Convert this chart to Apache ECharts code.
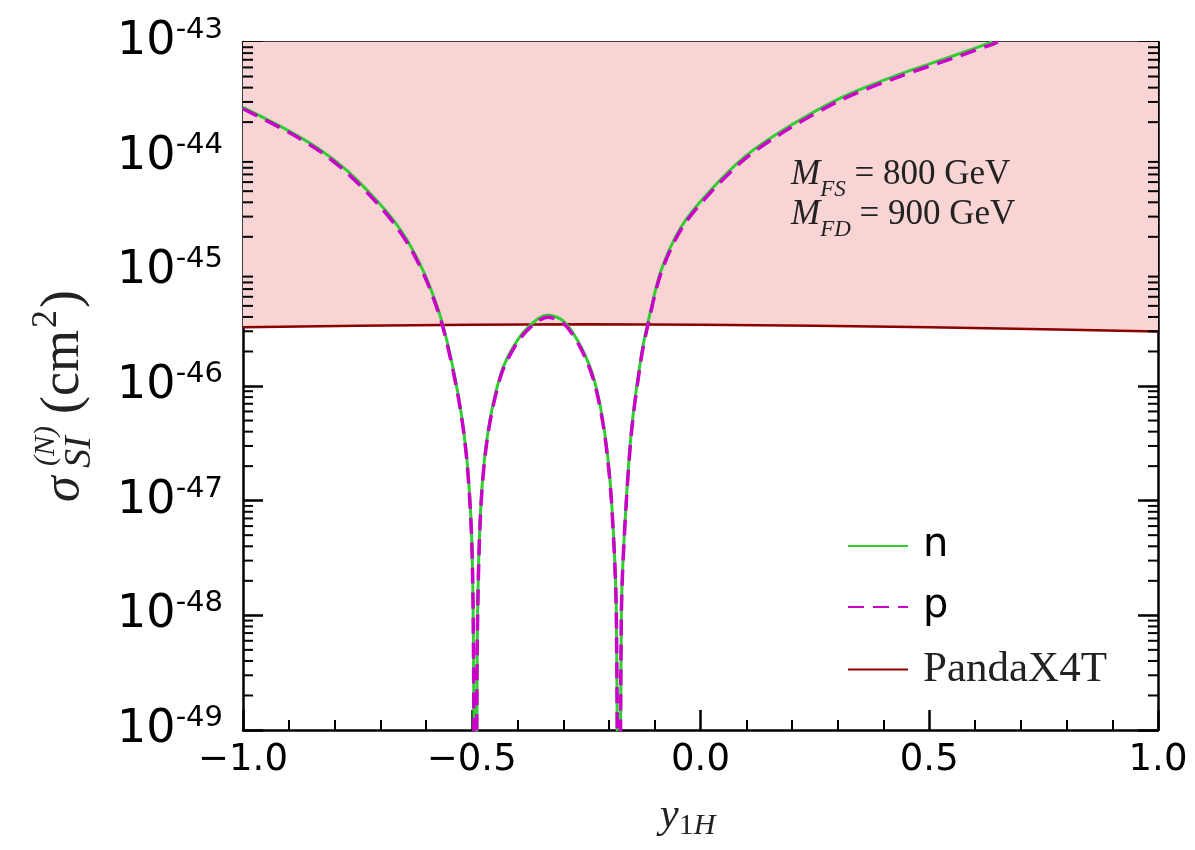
<!DOCTYPE html>
<html>
<head>
<meta charset="utf-8">
<script src="https://cdn.jsdelivr.net/npm/echarts@6/dist/echarts.min.js"></script>
<style>
html,body{margin:0;padding:0;background:#fff;}
#chart{width:1195px;height:850px;}
</style>
</head>
<body>
<div id="chart"></div>
<script>
// y_1H values and cross sections (cm^2)
var xN = [-1.00,-0.90,-0.83,-0.773,-0.708,-0.67,-0.635,-0.598,-0.563,-0.529,-0.511,-0.500,-0.496,-0.492,-0.488,-0.481,-0.466,-0.436,-0.40,-0.364,-0.334,-0.298,-0.261,-0.232,-0.21,-0.195,-0.184,-0.179,-0.173,-0.166,-0.151,-0.13,-0.115,-0.086,-0.042,0.016,0.097,0.192,0.31,0.436,0.553,0.638];
var nVals = [2.69e-44,1.68e-44,1.14e-44,7.59e-45,4.17e-45,2.75e-45,1.70e-45,8.51e-46,3.39e-46,8.13e-47,2.40e-47,4.57e-48,3.98e-49,1e-52,5.25e-49,7.76e-48,3.63e-47,1.29e-46,2.51e-46,3.63e-46,4.17e-46,3.63e-46,2.19e-46,1.12e-46,4.07e-47,1.07e-47,1.05e-48,1e-52,1.05e-48,5.50e-48,4.07e-47,1.78e-46,3.55e-46,1.02e-45,2.45e-45,4.79e-45,1.0e-44,1.82e-44,3.31e-44,5.25e-44,7.59e-44,1.0e-43];
var xP = [-1.00,-0.90,-0.83,-0.773,-0.708,-0.67,-0.635,-0.598,-0.563,-0.529,-0.511,-0.500,-0.496,-0.492,-0.488,-0.481,-0.466,-0.436,-0.40,-0.364,-0.334,-0.298,-0.261,-0.232,-0.21,-0.195,-0.184,-0.179,-0.173,-0.166,-0.151,-0.13,-0.115,-0.086,-0.042,0.016,0.097,0.192,0.31,0.436,0.553,0.638,0.65];
var pVals = [2.62e-44,1.63e-44,1.10e-44,7.25e-45,3.98e-45,2.62e-45,1.62e-45,8.15e-46,3.25e-46,7.80e-47,2.30e-47,4.40e-48,3.85e-49,1e-52,5.05e-49,7.45e-48,3.48e-47,1.24e-46,2.40e-46,3.47e-46,3.98e-46,3.47e-46,2.10e-46,1.07e-46,3.90e-47,1.03e-47,1.01e-48,1e-52,1.01e-48,5.30e-48,3.90e-47,1.70e-46,3.40e-46,9.75e-46,2.34e-45,4.58e-45,9.55e-45,1.74e-44,3.16e-44,5.02e-44,7.25e-44,9.55e-44,1.0e-43];
var xPanda = [-1,-0.75,-0.5,-0.25,0,0.25,0.5,0.75,1];
var pandaVals = [3.25e-46,3.35e-46,3.42e-46,3.45e-46,3.42e-46,3.35e-46,3.25e-46,3.12e-46,2.98e-46];
// decades shown on the y axis (log10)
var yMin = -49, yMax = -43;

var sans = 'DejaVu Sans', serif = 'Liberation Serif';

// the y axis is drawn in log10 space
function pairs(xs, ys){
	var out = [];
	for (var i = 0; i < xs.length; i++) out.push([xs[i], Math.log10(ys[i])]);
	return out;
}

// minor ticks 2..9 x 10^e
var minorY = [];
for (var e = yMin; e < yMax; e++) {
	for (var k = 2; k <= 9; k++) minorY.push([-1, e + Math.log10(k)]);
}

function xAx(pos, showLabel){
	return {
		type: 'value', min: -1, max: 1, interval: 0.5, position: pos,
		axisLine: {show: true, onZero: false, lineStyle: {color: '#000', width: 2.5}},
		axisTick: {inside: true, length: 20, lineStyle: {color: '#000', width: 2.5}},
		minorTick: {show: true, splitNumber: 5, length: 10, lineStyle: {color: '#000', width: 2}},
		splitLine: {show: false},
		axisLabel: {
			show: showLabel, margin: 12, color: '#000', fontFamily: sans, fontSize: 37,
			formatter: function(v){ return (v < 0 ? '\u2212' : '') + Math.abs(v).toFixed(1); }
		}
	};
}

function yAx(pos, showLabel){
	return {
		type: 'value', min: yMin, max: yMax, interval: 1, position: pos,
		axisLine: {show: true, onZero: false, lineStyle: {color: '#000', width: 2.5}},
		axisTick: {inside: true, length: 20, lineStyle: {color: '#000', width: 2.5}},
		splitLine: {show: false},
		axisLabel: {
			show: showLabel, margin: 20, color: '#000',
			formatter: function(v){ return '{b|10}{s|' + v + '}'; },
			rich: {
				b: {fontFamily: sans, fontSize: 46, lineHeight: 52, color: '#000'},
				s: {fontFamily: sans, fontSize: 29, lineHeight: 30, verticalAlign: 'top', color: '#000'}
			}
		}
	};
}

var subRich = {
	i: {fontFamily: serif, fontStyle: 'italic', fontSize: 35, lineHeight: 36, verticalAlign: 'top', fill: '#222'},
	s: {fontFamily: serif, fontStyle: 'italic', fontSize: 23, lineHeight: 24, verticalAlign: 'bottom', fill: '#222'},
	r: {fontFamily: serif, fontSize: 35, lineHeight: 36, verticalAlign: 'top', fill: '#222'},
	g: {lineHeight: 44, fontSize: 10}
};

var chart = echarts.init(document.getElementById('chart'));
var option = {
	animation: false,
	backgroundColor: '#fff',
	grid: {left: 243, right: 37, top: 42, bottom: 120, containLabel: false, outerBoundsMode: 'none'},
	xAxis: [xAx('bottom', true), xAx('top', false)],
	yAxis: [yAx('left', true), yAx('right', false)],
	legend: {
		data: ['n', 'p', 'PandaX4T'],
		orient: 'vertical', left: 847, top: 526, padding: 0,
		itemWidth: 60, itemHeight: 20, itemGap: 21,
		itemStyle: {opacity: 0, borderWidth: 0},
		textStyle: {color: '#000', fontSize: 40, lineHeight: 40},
		formatter: function(name){ return name === 'PandaX4T' ? '{s|' + name + '}' : '{d|' + name + '}'; },
		selectedMode: false
	},
	graphic: [
		{type: 'text', left: 791, top: 157, z: 100, style: {text: '{i|M}{s|FS}{r| = 800 GeV}{g| }', rich: subRich}},
		{type: 'text', left: 791, top: 197, z: 100, style: {text: '{i|M}{s|FD}{r| = 900 GeV}{g| }', rich: subRich}},
		// x axis title
		{type: 'text', left: 660, top: 795, z: 100, style: {
			text: '{i|y}{n|1}{h|H}{g| }',
			rich: {
				i: {fontFamily: serif, fontStyle: 'italic', fontSize: 42, lineHeight: 40, verticalAlign: 'top', fill: '#222'},
				n: {fontFamily: serif, fontSize: 30, lineHeight: 32, verticalAlign: 'bottom', fill: '#222'},
				h: {fontFamily: serif, fontStyle: 'italic', fontSize: 30, lineHeight: 32, verticalAlign: 'bottom', fill: '#222'},
				g: {fontSize: 10, lineHeight: 46}
			}
		}},
		// y axis title, rotated
		{type: 'group', x: 80, y: 388, rotation: Math.PI / 2, z: 100, children: [
			{type: 'text', style: {text: '\u03c3', x: -114, y: -16, fontFamily: serif, fontStyle: 'italic', fontSize: 52, verticalAlign: 'middle', fill: '#222'}},
			{type: 'text', style: {text: 'SI', x: -80, y: 0, fontFamily: serif, fontStyle: 'italic', fontSize: 38, verticalAlign: 'middle', fill: '#222'}},
			{type: 'text', style: {text: '(N)', x: -78, y: -34, fontFamily: serif, fontStyle: 'italic', fontSize: 30, verticalAlign: 'middle', fill: '#222'}},
			{type: 'text', style: {text: '(cm', x: -26, y: -16, fontFamily: serif, fontSize: 54, verticalAlign: 'middle', fill: '#222'}},
			{type: 'text', style: {text: '2', x: 60, y: -33, fontFamily: serif, fontSize: 36, verticalAlign: 'middle', fill: '#222'}},
			{type: 'text', style: {text: ')', x: 80, y: -16, fontFamily: serif, fontSize: 54, verticalAlign: 'middle', fill: '#222'}}
		]}
	],
	series: [
		{
			name: 'PandaX4T', type: 'line', data: pairs(xPanda, pandaVals),
			showSymbol: false, symbol: 'none', z: 2,
			lineStyle: {color: '#8b0000', width: 2.5},
			itemStyle: {color: '#8b0000'},
			areaStyle: {origin: 'end', color: '#f9d4d4', opacity: 1}
		},
		{
			name: 'n', type: 'line', data: pairs(xN, nVals),
			showSymbol: false, symbol: 'none', smooth: 0.3, z: 3,
			lineStyle: {color: '#32cd32', width: 3},
			itemStyle: {color: '#32cd32'}
		},
		{
			name: 'p', type: 'line', data: pairs(xP, pVals),
			showSymbol: false, symbol: 'none', smooth: 0.3, z: 4,
			lineStyle: {color: '#c800c8', width: 3.5, type: [16, 9]},
			itemStyle: {color: '#c800c8'}
		},
		{
			type: 'custom', silent: true, data: minorY, z: 6,
			renderItem: function(params, api){
				var v = api.value(1);
				var a = api.coord([-1, v]), b = api.coord([1, v]);
				return {type: 'group', children: [
					{type: 'line', shape: {x1: a[0], y1: a[1], x2: a[0] + 10, y2: a[1]}, style: {stroke: '#000', lineWidth: 2}},
					{type: 'line', shape: {x1: b[0] - 10, y1: b[1], x2: b[0], y2: b[1]}, style: {stroke: '#000', lineWidth: 2}}
				]};
			}
		}
	]
};
option.legend.textStyle.rich = {
	d: {fontFamily: sans, fontSize: 40, padding: [0, 0, 0, 10], color: '#000'},
	s: {fontFamily: serif, fontSize: 43, padding: [0, 0, 0, 10], color: '#222'}
};
chart.setOption(option);
</script>
</body>
</html>
